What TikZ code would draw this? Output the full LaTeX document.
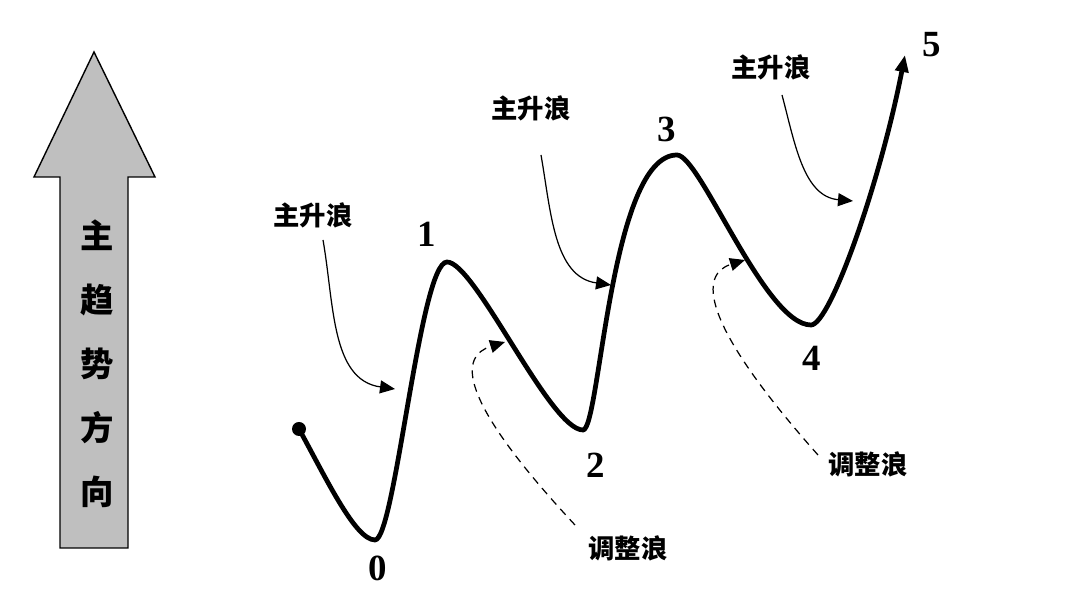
\documentclass[tikz,border=0pt]{standalone}
\usepackage{fontspec}
\setmainfont{Liberation Serif}
\newfontfamily\cjk{Noto Sans CJK SC}
\usetikzlibrary{arrows.meta}
\definecolor{grisflecha}{rgb}{0.75,0.75,0.75}
\tikzset{
  onda/.style={
    line width=2.7pt,
    line cap=round,
    -{Triangle[length=3.4mm,width=2.6mm]}
  },
  rotulo/.style={
    inner sep=0pt,
    font=\cjk\bfseries\fontsize{15}{18}\selectfont
  },
  cifra/.style={
    inner sep=0pt,
    font=\bfseries\fontsize{21}{24}\selectfont
  },
  flecha/.style={
    -{Triangle[length=3mm,width=2.6mm]},
    line width=.7pt
  },
  flechapunteada/.style={
    flecha,
    dash pattern=on 4.5pt off 3.4pt
  }
}

\begin{document}
\begin{tikzpicture}[x=.02cm,y=.02cm]
\useasboundingbox (0,0) rectangle (1080,601);
\draw[fill=grisflecha,line width=.8pt] (60,53) -- (60,424) -- (34,424) -- (94,549) -- (155,424) -- (128,424) -- (128,53) -- cycle;
\node[rotulo,align=center,font=\cjk\bfseries\fontsize{19}{36.4}\selectfont] (t) at (97,237) {主\\趋\\势\\方\\向};
\coordinate (s) at (299,172);
\coordinate (p0) at (375,61);
\coordinate (p1) at (447,339);
\coordinate (p2) at (583,171);
\coordinate (p3) at (677,446);
\coordinate (p4) at (811,276);
\coordinate (p5) at (905,546);
\fill (s) circle (7);
\draw[onda] (s) .. controls (325,125) and (355,61) .. (p0)
  .. controls (395,61) and (420,339) .. (p1)
  .. controls (475,339) and (550,171) .. (p2)
  .. controls (600,171) and (610,446) .. (p3)
  .. controls (700,446) and (765,276) .. (p4)
  .. controls (830,276) and (880,418) .. (p5);
\node[cifra] (n0) at (378,33) {0};
\node[cifra] (n1) at (427,367) {1};
\node[cifra] (n2) at (596,136) {2};
\node[cifra] (n3) at (667,472) {3};
\node[cifra] (n4) at (812,243) {4};
\node[cifra] (n5) at (932,556) {5};
\node[rotulo] (u1) at (313,386) {主升浪};
\node[rotulo] (u2) at (531,493) {主升浪};
\node[rotulo] (u3) at (771,534) {主升浪};
\node[rotulo] (d1) at (628,53) {调整浪};
\node[rotulo] (d2) at (868,137) {调整浪};
\coordinate (a1) at (323,361);
\coordinate (b1) at (395,212);
\coordinate (a2) at (541,446);
\coordinate (b2) at (611,316);
\coordinate (a3) at (782,506);
\coordinate (b3) at (853,400);
\coordinate (c1) at (575,76);
\coordinate (e1) at (505,259);
\coordinate (c2) at (818,146);
\coordinate (e2) at (745,341);
\draw[flecha] (a1) to[out=-80,in=172] (b1);
\draw[flecha] (a2) to[out=-80,in=172] (b2);
\draw[flecha] (a3) to[out=-75,in=175] (b3);
\draw[flechapunteada] (c1) .. controls +(-120,129) and +(-45,-14) .. (e1);
\draw[flechapunteada] (c2) .. controls +(-120,135) and +(-45,-14) .. (e2);
\end{tikzpicture}
\end{document}
